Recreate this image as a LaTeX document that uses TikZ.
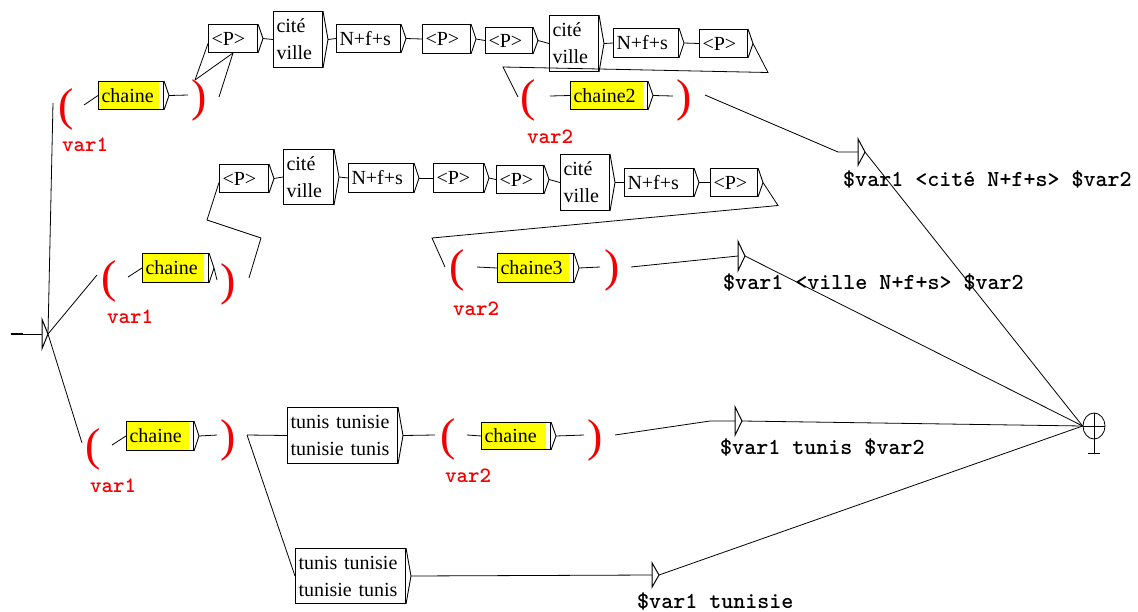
\documentclass[tikz,border=0pt]{standalone}
\usepackage{fontspec}
\setmainfont{Liberation Serif}
\usetikzlibrary{calc,shapes.geometric}
\definecolor{ured}{RGB}{245,0,0}
\definecolor{uyel}{RGB}{255,255,0}
\begin{document}
\begin{tikzpicture}[x=1pt,y=-1pt,
  bx/.style={draw, line width=1pt, anchor=north west, inner xsep=3pt, inner ysep=0pt, align=left, font=\fontsize{20}{27}\selectfont},
  ybx/.style={bx, path picture={\fill[uyel] (path picture bounding box.north west) rectangle ([xshift=-5pt]path picture bounding box.south east);}},
  par/.style={text=ured, inner sep=0pt, font=\fontsize{46}{46}\selectfont},
  vlab/.style={text=ured, anchor=base west, inner sep=0pt, font=\ttfamily\bfseries\fontsize{21.9}{22}\selectfont},
  olab/.style={anchor=base west, inner sep=0pt, font=\ttfamily\bfseries\fontsize{22.9}{23}\selectfont},
  cn/.style={line width=0.8pt},
  fst/.style={inner sep=0pt, minimum width=0pt, anchor=west},
]
\useasboundingbox (0,0) rectangle (1138,611);

% ---- row 1
\node[ybx, text width=59pt, minimum height=28pt] (c1) at (98,81) {chaine};
\node[bx, text width=43pt, minimum height=28pt] (p1) at (208,24) {<P>};
\node[bx, text width=43pt, minimum height=56pt] (cv1) at (273,11) {cité\\ville};
\node[bx, text width=58pt, minimum height=28pt] (n1) at (336,24) {N+f+s};
\node[bx, text width=42pt, minimum height=29pt] (p2) at (422,24) {<P>};
\node[bx, text width=41pt, minimum height=26pt] (p3) at (485,27) {<P>};
\node[bx, text width=43pt, minimum height=56pt] (cv2) at (549,15) {cité\\ville};
\node[bx, text width=59pt, minimum height=29pt] (n2) at (613,28) {N+f+s};
\node[bx, text width=42pt, minimum height=28pt] (p4) at (699,29) {<P>};
\node[ybx, text width=71pt, minimum height=28pt] (c2) at (570,81) {chaine2};

% ---- row 2
\node[ybx, text width=60pt, minimum height=29pt] (c3) at (142,253) {chaine};
\node[bx, text width=43pt, minimum height=28pt] (p5) at (219,164) {<P>};
\node[bx, text width=44pt, minimum height=55pt] (cv3) at (283,149) {cité\\ville};
\node[bx, text width=59pt, minimum height=29pt] (n3) at (348,163) {N+f+s};
\node[bx, text width=44pt, minimum height=29pt] (p6) at (433,163) {<P>};
\node[bx, text width=41pt, minimum height=28pt] (p7) at (496,165) {<P>};
\node[bx, text width=43pt, minimum height=56pt] (cv4) at (560,154) {cité\\ville};
\node[bx, text width=63pt, minimum height=28pt] (n4) at (624,168) {N+f+s};
\node[bx, text width=41pt, minimum height=28pt] (p8) at (710,168) {<P>};
\node[ybx, text width=70pt, minimum height=29pt] (c4) at (497,253) {chaine3};

% ---- row 3
\node[ybx, text width=61pt, minimum height=29pt] (c5) at (126,421) {chaine};
\node[bx, text width=104pt, minimum height=56pt] (t1) at (287,407) {tunis tunisie\\tunisie tunis};
\node[bx, text width=104pt, minimum height=55pt] (t2) at (295,548) {tunis tunisie\\tunisie tunis};
\node[ybx, text width=63pt, minimum height=27pt] (c6) at (481,422) {chaine};

% ---- parentheses
\node[par] (o1) at (66,109) {(};
\node[par] (k1) at (199,100) {)};
\node[par] (o2) at (528,100) {(};
\node[par] (k2) at (684,100) {)};
\node[par] (o3) at (109,281) {(};
\node[par] (k3) at (228,284) {)};
\node[par] (o4) at (457,270) {(};
\node[par] (k4) at (612,270) {)};
\node[par] (o5) at (93,449) {(};
\node[par] (k5) at (228,440) {)};
\node[par] (o6) at (448,439) {(};
\node[par] (k6) at (595,440) {)};

% ---- variable labels
\node[vlab] (v1) at (62,151) {var1};
\node[vlab] (v2) at (527,143) {var2};
\node[vlab] (v3) at (107,323) {var1};
\node[vlab] (v4) at (453,315) {var2};
\node[vlab] (v5) at (90,492) {var1};
\node[vlab] (v6) at (445,482) {var2};

% ---- output states
\node[fst, minimum height=26pt] (f1) at (858,152) {};
\node[fst, minimum height=29pt] (f2) at (738,256) {};
\node[fst, minimum height=28pt] (f3) at (735,421) {};
\node[fst, minimum height=24pt] (f4) at (652,575) {};
\foreach \f in {f1,f2,f3,f4}
  \draw[line width=1pt] (\f.north west) -- (\f.south west) -- ([xshift=7pt]\f.west) -- cycle;

\node[olab] (l1) at (843,186) {\$var1 <cité N+f+s> \$var2};
\node[olab] (l2) at (723,289) {\$var1 <ville N+f+s> \$var2};
\node[olab] (l3) at (720,454) {\$var1 tunis \$var2};
\node[olab] (l4) at (637,608) {\$var1 tunisie};

% ---- initial and final states
\node[fst, minimum height=29pt] (i0) at (42,334) {};
\draw[line width=1pt] (i0.north west) -- (i0.south west) -- ([xshift=6pt]i0.west) -- cycle;
\coordinate (st) at (11,334);
\draw[line width=2.5pt] (st) -- ++(12,0);
\draw[cn] (st) -- (i0.west);

\node[draw, ellipse, minimum width=22pt, minimum height=26pt, inner sep=0pt, line width=0.8pt] (fin) at (1094,426) {};
\draw[cn] (fin.west) -- (fin.east);
\draw[cn] (fin.north) -- ($(fin.south)+(0,14)$);
\draw[cn] ($(fin.south)+(-6,14)$) -- ($(fin.south)+(6,14)$);

% ---- box arrows
\foreach \b in {c1,p1,cv1,n1,p2,p3,cv2,n2,p4,c2,c3,p5,cv3,n3,p6,p7,cv4,n4,p8,c4,c5,t1,t2,c6}
  \draw[line width=0.9pt] (\b.north east) -- ([xshift=5pt]\b.east) -- (\b.south east);

% ---- connectors from initial state
\draw[cn] ([xshift=6pt]i0.west) -- ($(o1)+(-13,-6)$);
\draw[cn] ([xshift=6pt]i0.west) -- ($(o3)+(-12,-6)$);
\draw[cn] ([xshift=6pt]i0.west) -- ($(o5)+(-11,-6)$);

% ---- row 1
\draw[cn] ($(o1)+(18,-4)$) -- (c1.west);
\draw[cn] ([xshift=5pt]c1.east) -- ($(k1)+(-11,-5)$);
\draw[cn] ($(k1)+(-4,-20)$) -- ($(p1.west)+(0,5)$);
\draw[cn] ($(k1)+(-4,-20)$) -- (p1.south);
\draw[cn] ($(k1)+(20,-3)$) -- (p1.south);
\draw[cn] ([xshift=5pt]p1.east) -- (cv1.west);
\draw[cn] ([xshift=5pt]cv1.east) -- (n1.west);
\draw[cn] ([xshift=5pt]n1.east) -- (p2.west);
\draw[cn] ([xshift=5pt]p2.east) -- (p3.west);
\draw[cn] ([xshift=5pt]p3.east) -- (cv2.west);
\draw[cn] ([xshift=5pt]cv2.east) -- (n2.west);
\draw[cn] ([xshift=5pt]n2.east) -- (p4.west);
\draw[cn] ([xshift=5pt]p4.east) -- ($(p4.east)+(20,29)$) -- ($(o2)+(-25,-33)$) -- ($(o2)+(-10,-3)$);
\draw[cn] ($(o2)+(22,-4)$) -- (c2.west);
\draw[cn] ([xshift=5pt]c2.east) -- ($(k2)+(-11,-4)$);
\draw[cn] ($(k2)+(21,-5)$) -- ($(f1.west)+(-20,0)$) -- (f1.west);
\draw[cn] ([xshift=7pt]f1.west) -- (fin.west);

% ---- row 2
\draw[cn] ($(o3)+(19,-4)$) -- (c3.west);
\draw[cn] ([xshift=5pt]c3.east) -- ($(k3)+(-11,-4)$);
\draw[cn] ($(k3)+(21,-6)$) -- ($(k3)+(33,-46)$) -- ($(k3)+(-21,-64)$) -- ($(p5.west)+(0,4)$);
\draw[cn] ([xshift=5pt]p5.east) -- (cv3.west);
\draw[cn] ([xshift=5pt]cv3.east) -- (n3.west);
\draw[cn] ([xshift=5pt]n3.east) -- (p6.west);
\draw[cn] ([xshift=5pt]p6.east) -- (p7.west);
\draw[cn] ([xshift=5pt]p7.east) -- (cv4.west);
\draw[cn] ([xshift=5pt]cv4.east) -- (n4.west);
\draw[cn] ([xshift=5pt]n4.east) -- (p8.west);
\draw[cn] ([xshift=5pt]p8.east) -- ($(p8.east)+(20,23)$) -- ($(o4)+(-25,-32)$) -- ($(o4)+(-12,-3)$);
\draw[cn] ($(o4)+(20,-3)$) -- (c4.west);
\draw[cn] ([xshift=5pt]c4.east) -- ($(k4)+(-12,-3)$);
\draw[cn] ($(k4)+(19,-3)$) -- (f2.west);
\draw[cn] ([xshift=7pt]f2.west) -- (fin.west);

% ---- row 3
\draw[cn] ($(o5)+(19,-4)$) -- (c5.west);
\draw[cn] ([xshift=5pt]c5.east) -- ($(k5)+(-11,-5)$);
\draw[cn] ($(k5)+(19,-5)$) -- (t1.west);
\draw[cn] ($(k5)+(19,-5)$) -- (t2.west);
\draw[cn] ([xshift=5pt]t1.east) -- ($(o6)+(-13,-4)$);
\draw[cn] ($(o6)+(19,-4)$) -- (c6.west);
\draw[cn] ([xshift=5pt]c6.east) -- ($(k6)+(-11,-5)$);
\draw[cn] ($(k6)+(20,-5)$) -- ($(f3.west)+(-25,0)$) -- (f3.west);
\draw[cn] ([xshift=7pt]f3.west) -- (fin.west);
\draw[cn] ([xshift=5pt]t2.east) -- (f4.west);
\draw[cn] ([xshift=7pt]f4.west) -- (fin.west);
\end{tikzpicture}
\end{document}
